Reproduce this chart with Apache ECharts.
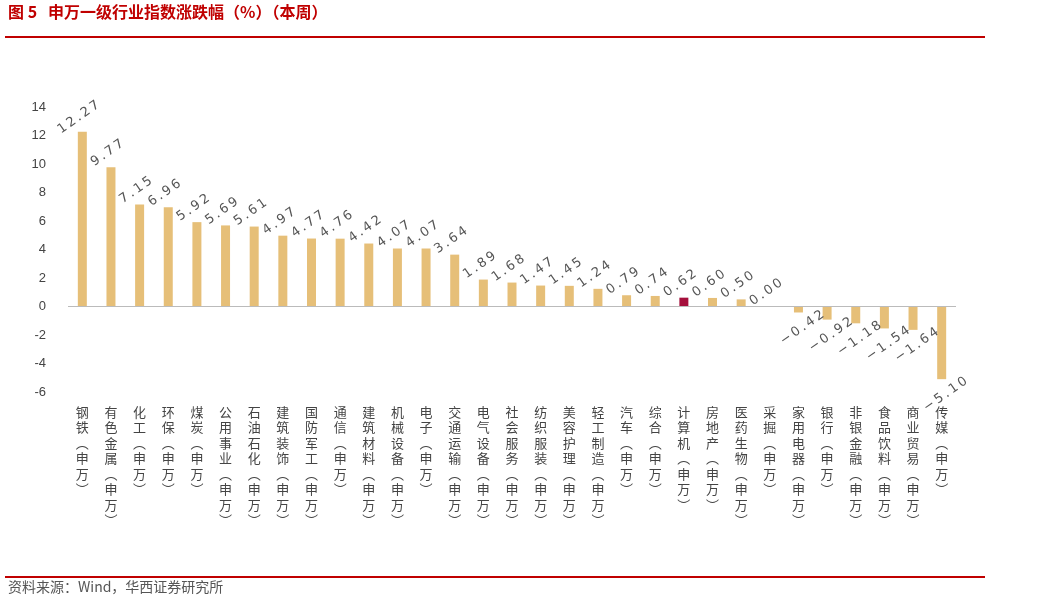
<!DOCTYPE html>
<html><head><meta charset="utf-8">
<script src="https://cdn.jsdelivr.net/npm/echarts@6/dist/echarts.min.js"></script>
<style>html,body{margin:0;padding:0;background:#fff}#c{width:1053px;height:604px}</style>
</head><body><div id="c"></div>
<script>
var categories=['钢铁','有色金属','化工','环保','煤炭','公用事业','石油石化','建筑装饰','国防军工','通信','建筑材料','机械设备','电子','交通运输','电气设备','社会服务','纺织服装','美容护理','轻工制造','汽车','综合','计算机','房地产','医药生物','采掘','家用电器','银行','非银金融','食品饮料','商业贸易','传媒'];
var values=[12.27,9.77,7.15,6.96,5.92,5.69,5.61,4.97,4.77,4.76,4.42,4.07,4.07,3.64,1.89,1.68,1.47,1.45,1.24,0.79,0.74,0.62,0.60,0.50,0.00,-0.42,-0.92,-1.18,-1.54,-1.64,-5.10];
var highlight='计算机';
var yTicks={min:-6,max:14,interval:2};
var chart=echarts.init(document.getElementById('c'));
var data=values.map(function(v,i){
  var d={value:v,itemStyle:{color:categories[i]===highlight?'#A50F3C':'#E6BF78'}};
  d.label={show:true,position:v<0?'bottom':'top',rotate:35,distance:v<0?10:9,
    formatter:v.toFixed(2).replace('-','−').split('').join('\u2009'),color:'#555',fontSize:13,fontFamily:'DejaVu Sans'};
  return d;
});
chart.setOption({
  animation:false,
  grid:{left:68,right:97,top:107,bottom:212},
  xAxis:{type:'category',data:categories,axisLine:{show:false},axisTick:{show:false},
    axisLabel:{interval:0,color:'#444',fontSize:13,lineHeight:15.5,fontFamily:'Noto Sans CJK SC',margin:12,
      formatter:function(s){return (s+'︵申万︶').split('').join('\n');}}},
  yAxis:{type:'value',min:yTicks.min,max:yTicks.max,interval:yTicks.interval,splitLine:{show:false},
    axisLine:{show:false},axisTick:{show:false},axisLabel:{color:'#444',fontSize:13,margin:22}},
  series:[{type:'bar',data:data,barWidth:9,
    markLine:{silent:true,symbol:'none',label:{show:false},lineStyle:{color:'#bbb',type:'solid',width:1},data:[{yAxis:0}]}}],
  graphic:[
    {type:'text',left:8,top:4,style:{text:'图 5   申万一级行业指数涨跌幅（%）（本周）',fill:'#C00000',font:'bold 16px "Noto Sans CJK SC"'}},
    {type:'line',shape:{x1:5,y1:37,x2:985,y2:37},style:{stroke:'#C00000',lineWidth:2}},
    {type:'line',shape:{x1:5,y1:577,x2:985,y2:577},style:{stroke:'#C00000',lineWidth:2}},
    {type:'text',left:8,top:580,style:{text:'资料来源：Wind，华西证券研究所',fill:'#555',font:'14px "Noto Sans CJK SC"'}}
  ]
});
</script></body></html>
